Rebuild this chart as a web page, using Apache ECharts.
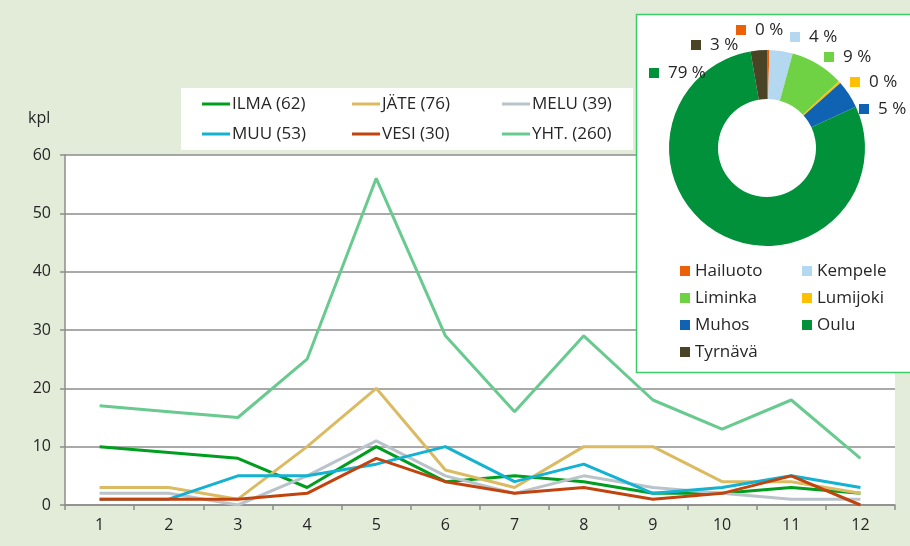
<!DOCTYPE html>
<html>
<head>
<meta charset="utf-8">
<script src="https://cdn.jsdelivr.net/npm/echarts@6/dist/echarts.min.js"></script>
<style>
  html, body { margin: 0; padding: 0; background: #e2ecd9; }
  #chart { width: 910px; height: 546px; }
</style>
</head>
<body>
<div id="chart"></div>
<script>
// months 1..12
const months = ['1', '2', '3', '4', '5', '6', '7', '8', '9', '10', '11', '12']
const ilma = [10, 9, 8, 3, 10, 4, 5, 4, 2, 2, 3, 2]
const jate = [3, 3, 1, 10, 20, 6, 3, 10, 10, 4, 4, 2]
const melu = [2, 2, 0, 5, 11, 5, 2, 5, 3, 2, 1, 1]
const muu = [1, 1, 5, 5, 7, 10, 4, 7, 2, 3, 5, 3]
const vesi = [1, 1, 1, 2, 8, 4, 2, 3, 1, 2, 5, 0]
const yht = [17, 16, 15, 25, 56, 29, 16, 29, 18, 13, 18, 8]

// municipalities (donut)
const kunnat = ['Hailuoto', 'Kempele', 'Liminka', 'Lumijoki', 'Muhos', 'Oulu', 'Tyrnävä']
const kuntaArvot = [1, 10, 23, 1, 12, 206, 7]

const font = "'Open Sans', sans-serif"
const textColor = '#262626'
const kuntaColors = ['#ec6108', '#b4d8ef', '#6fd244', '#ffc000', '#1062b3', '#00913a', '#4a4325']
// where excel put the percentage labels (left x, middle y)
const labelPos = [[736, 30], [790, 37], [824, 57], [850, 82], [859, 109], [649, 73], [691, 45]]

const sum = arr => arr.reduce((a, b) => a + b, 0)
const lineDefs = [
  { label: 'ILMA', data: ilma, color: '#009e1f' },
  { label: 'JÄTE', data: jate, color: '#dbbb62' },
  { label: 'MELU', data: melu, color: '#b9c3c9' },
  { label: 'MUU', data: muu, color: '#14b2d2' },
  { label: 'VESI', data: vesi, color: '#c1440e' },
  { label: 'YHT.', data: yht, color: '#68ca8f' }
]
lineDefs.forEach(d => { d.name = d.label + ' (' + sum(d.data) + ')' })

const lineLegend = (left, names) => ({
  left: left,
  top: 94,
  padding: 0,
  orient: 'vertical',
  icon: 'rect',
  itemWidth: 28,
  itemHeight: 3,
  itemGap: 10,
  z: 10,
  data: names,
  textStyle: { fontFamily: font, fontSize: 17, color: textColor, lineHeight: 20, padding: [0, 0, 0, -3] }
})
const pieLegend = (left, names) => ({
  left: left,
  top: 261,
  padding: 0,
  orient: 'vertical',
  icon: 'rect',
  itemWidth: 10,
  itemHeight: 10,
  itemGap: 7,
  z: 10,
  data: names,
  textStyle: { fontFamily: font, fontSize: 17, color: textColor, lineHeight: 20 }
})

const rich = { t: { fontFamily: font, fontSize: 17, color: textColor, padding: [0, 0, 0, 9] } }
kuntaColors.forEach((c, i) => { rich['s' + i] = { width: 10, height: 10, backgroundColor: c } })

const myChart = echarts.init(document.getElementById('chart'))
myChart.setOption({
  backgroundColor: '#e2ecd9',
  animation: false,
  textStyle: { fontFamily: font },
  grid: {
    left: 65,
    right: 15,
    top: 155,
    bottom: 41,
    show: true,
    backgroundColor: '#ffffff',
    borderWidth: 0
  },
  graphic: [
    { type: 'rect', z: 5, shape: { x: 181, y: 88, width: 452, height: 62 }, style: { fill: '#ffffff' } },
    { type: 'rect', z: 6, shape: { x: 636.5, y: 14.5, width: 290, height: 358 }, style: { fill: '#ffffff', stroke: '#3ccc68', lineWidth: 1.5 } },
    { type: 'text', z: 5, x: 28, y: 110, style: { text: 'kpl', fontFamily: font, fontSize: 16, fill: textColor } }
  ],
  legend: [
    lineLegend(202, [lineDefs[0].name, lineDefs[3].name]),
    lineLegend(352, [lineDefs[1].name, lineDefs[4].name]),
    lineLegend(502, [lineDefs[2].name, lineDefs[5].name]),
    pieLegend(680, ['Hailuoto', 'Liminka', 'Muhos', 'Tyrnävä']),
    pieLegend(802, ['Kempele', 'Lumijoki', 'Oulu'])
  ],
  xAxis: {
    type: 'category',
    data: months,
    boundaryGap: true,
    axisLine: { lineStyle: { color: '#8c8c8c', width: 1.5 } },
    axisTick: { show: true, length: 5, lineStyle: { color: '#8c8c8c', width: 1.5 } },
    axisLabel: { fontSize: 16, color: textColor, margin: 12 }
  },
  yAxis: {
    type: 'value',
    min: 0,
    max: 60,
    interval: 10,
    axisLine: { show: true, lineStyle: { color: '#8c8c8c', width: 1.5 } },
    axisTick: { show: true, length: 5, lineStyle: { color: '#8c8c8c', width: 1.5 } },
    splitLine: { lineStyle: { color: '#8c8c8c', width: 1.5 } },
    axisLabel: { fontSize: 16, color: textColor, margin: 14 }
  },
  series: lineDefs.map(d => ({
    name: d.name,
    type: 'line',
    data: d.data,
    symbol: 'none',
    color: d.color,
    lineStyle: { width: 3, color: d.color }
  })).concat([{
    name: 'kunnat',
    type: 'pie',
    z: 10,
    center: [767, 148],
    radius: [49, 98],
    startAngle: 90,
    clockwise: true,
    color: kuntaColors,
    data: kunnat.map((k, i) => ({ name: k, value: kuntaArvot[i] })),
    label: {
      show: true,
      position: 'outside',
      overflow: 'none',
      formatter: p => '{s' + p.dataIndex + '|}{t|' + Math.round(p.percent) + ' %}',
      rich: rich
    },
    labelLine: { show: false },
    labelLayout: p => ({
      x: labelPos[p.dataIndex][0],
      y: labelPos[p.dataIndex][1],
      align: 'left',
      verticalAlign: 'middle',
      hideOverlap: false
    }),
    emphasis: { disabled: true }
  }])
})
</script>
</body>
</html>
